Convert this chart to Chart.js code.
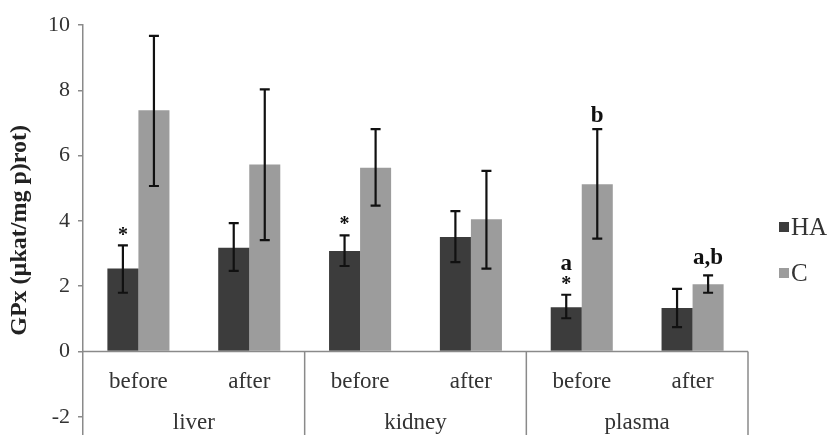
<!DOCTYPE html>
<html>
<head>
<meta charset="utf-8">
<script src="https://cdn.jsdelivr.net/npm/chart.js@4"></script>
<style>
  html, body { margin: 0; padding: 0; background: #fff; overflow: hidden; }
  #wrap { width: 836px; height: 457px; }
</style>
</head>
<body>
<div id="wrap"><canvas id="gpxChart"></canvas></div>
<script>
// categories: tissue groups and time points
const groups = ['liver', 'kidney', 'plasma'];
const timepoints = ['before', 'after', 'before', 'after', 'before', 'after'];

// means
const haValues = [2.54, 3.18, 3.08, 3.51, 1.36, 1.33];
const cValues = [7.39, 5.73, 5.63, 4.05, 5.12, 2.06];

// error bar ends
const haLow = [1.80, 2.47, 2.62, 2.74, 1.02, 0.75];
const haHigh = [3.25, 3.93, 3.56, 4.30, 1.74, 1.92];
const cLow = [5.07, 3.41, 4.47, 2.54, 3.46, 1.80];
const cHigh = [9.67, 8.03, 6.81, 5.53, 6.81, 2.33];

// significance marks above the bars (bottom line first)
const haMarks = [['*'], [], ['*'], [], ['*', 'a'], []];
const cMarks = [[], [], [], [], ['b'], ['a,b']];

const yTicks = [-2, 0, 2, 4, 6, 8, 10];

const serif = "'Liberation Serif', 'Times New Roman', serif";
const axisGray = '#8a8a8a';

// error bars + marks
const errorBars = {
  id: 'errorBars',
  afterDatasetsDraw(chart) {
    const ctx = chart.ctx;
    const y = chart.scales.y;
    const sets = [[haLow, haHigh, haMarks], [cLow, cHigh, cMarks]];
    sets.forEach(([lo, hi, marks], di) => {
      const meta = chart.getDatasetMeta(di);
      meta.data.forEach((bar, i) => {
        const x = bar.x;
        const yl = y.getPixelForValue(lo[i]);
        const yh = y.getPixelForValue(hi[i]);
        ctx.save();
        ctx.strokeStyle = '#111';
        ctx.lineWidth = 2.2;
        ctx.beginPath();
        ctx.moveTo(x, yl); ctx.lineTo(x, yh);
        ctx.moveTo(x - 5, yl); ctx.lineTo(x + 5, yl);
        ctx.moveTo(x - 5, yh); ctx.lineTo(x + 5, yh);
        ctx.stroke();
        ctx.fillStyle = '#111';
        ctx.textAlign = 'center';
        ctx.textBaseline = 'middle';
        let cy = yh - 13;
        marks[i].forEach(m => {
          if (m === '*') {
            ctx.font = 'bold 20px ' + serif;
            ctx.fillText(m, x, cy + 3);
            cy -= 18;
          } else {
            ctx.font = 'bold 23px ' + serif;
            ctx.fillText(m, x, cy - (m.includes(',') ? 4 : 0));
            cy -= 21;
          }
        });
        ctx.restore();
      });
    });
  }
};

// category box below zero line + legend
const categoryBox = {
  id: 'categoryBox',
  afterDraw(chart) {
    const ctx = chart.ctx;
    const x = chart.scales.x;
    const y = chart.scales.y;
    const area = chart.chartArea;
    const y0 = y.getPixelForValue(0);
    ctx.save();
    ctx.strokeStyle = axisGray;
    ctx.lineWidth = 1.5;
    ctx.beginPath();
    ctx.moveTo(area.left, y0); ctx.lineTo(area.right, y0);
    for (let g = 1; g <= groups.length; g++) {
      const xb = g < groups.length
        ? (x.getPixelForValue(g * 2 - 1) + x.getPixelForValue(g * 2)) / 2
        : area.right;
      ctx.moveTo(xb, y0); ctx.lineTo(xb, area.bottom);
    }
    ctx.stroke();

    ctx.fillStyle = '#333';
    ctx.font = '23px ' + serif;
    ctx.textAlign = 'center';
    ctx.textBaseline = 'middle';
    timepoints.forEach((t, i) => ctx.fillText(t, x.getPixelForValue(i), y0 + 30));
    groups.forEach((g, gi) => {
      const xc = (x.getPixelForValue(gi * 2) + x.getPixelForValue(gi * 2 + 1)) / 2;
      ctx.fillText(g, xc, y0 + 71);
    });

    // legend
    ctx.textAlign = 'left';
    ctx.font = '25px ' + serif;
    chart.data.datasets.forEach((ds, i) => {
      const ly = 227 + i * 46;
      ctx.fillStyle = ds.backgroundColor;
      ctx.fillRect(779, ly - 5, 10, 10);
      ctx.fillStyle = '#333';
      ctx.fillText(ds.label, 791, ly + 1);
    });
    ctx.restore();
  }
};

new Chart(document.getElementById('gpxChart'), {
  type: 'bar',
  data: {
    labels: timepoints,
    datasets: [
      { label: 'HA', data: haValues, backgroundColor: '#3c3c3c' },
      { label: 'C', data: cValues, backgroundColor: '#9c9c9c' }
    ]
  },
  options: {
    responsive: true,
    maintainAspectRatio: false,
    animation: false,
    layout: { padding: { top: 25, right: 88, bottom: 0, left: 0 } },
    datasets: { bar: { categoryPercentage: 0.56, barPercentage: 1.0 } },
    plugins: {
      legend: { display: false },
      tooltip: { enabled: false }
    },
    scales: {
      x: { display: false },
      y: {
        min: -2.58,
        max: 10,
        afterBuildTicks: scale => { scale.ticks = yTicks.map(v => ({ value: v })); },
        afterFit: scale => { scale.width = 83; },
        border: { color: axisGray, width: 1.5 },
        grid: { drawOnChartArea: false, drawTicks: true, tickLength: 5, color: axisGray, lineWidth: 1.5 },
        ticks: { color: '#333', padding: 8, font: { family: serif, size: 22 } },
        title: {
          display: true,
          text: 'GPx (µkat/mg p)rot)',
          color: '#222',
          padding: { top: 5, bottom: 0 },
          font: { family: serif, size: 24, weight: 'bold' }
        }
      }
    }
  },
  plugins: [errorBars, categoryBox]
});
</script>
</body>
</html>
